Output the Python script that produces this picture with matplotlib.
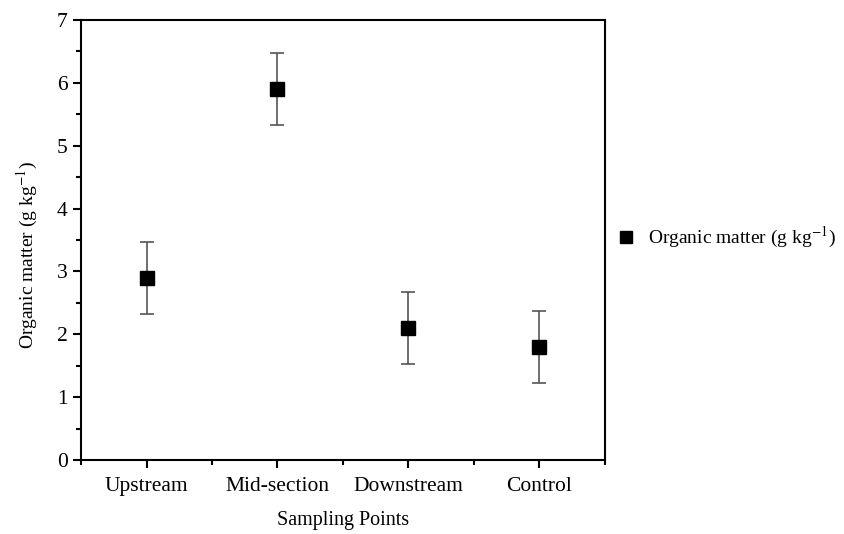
import numpy as np
import matplotlib.pyplot as plt
from matplotlib.lines import Line2D
from matplotlib.ticker import MultipleLocator

plt.rcParams['font.family'] = ['Liberation Serif', 'DejaVu Serif']
plt.rcParams['mathtext.fontset'] = 'stix'

sites = ['Upstream', 'Mid-section', 'Downstream', 'Control']
organic = [2.9, 5.9, 2.1, 1.8]
err = [0.57, 0.57, 0.57, 0.57]

fig = plt.figure(figsize=(8.45, 5.34), dpi=100)
ax = fig.add_axes([0.0959, 0.1386, 0.62, 0.824])

x = np.arange(len(sites))
ax.errorbar(x, organic, yerr=err, fmt='s', color='black', ms=10,
            ecolor='#555555', elinewidth=1.2, capsize=5, capthick=1.2)

ax.set_xlim(-0.5, 3.5)
ax.set_ylim(0, 7)
ax.set_xticks(x)
ax.set_xticklabels(sites, fontsize=15.5)
ax.xaxis.set_minor_locator(MultipleLocator(0.5))
ax.yaxis.set_major_locator(MultipleLocator(1))
ax.yaxis.set_minor_locator(MultipleLocator(0.5))
ax.tick_params(axis='y', labelsize=15.5)
ax.tick_params(axis='x', pad=6)
ax.tick_params(which='major', direction='out', length=6, width=1.5)
ax.tick_params(which='minor', direction='out', length=3.5, width=1.5)
for s in ax.spines.values():
    s.set_linewidth(1.5)

ax.set_xlabel('Sampling Points', fontsize=14.5)
ax.xaxis.set_label_coords(0.5, -0.115)
ax.set_ylabel('Organic matter (g kg$^{-1}$)', fontsize=14)
ax.yaxis.set_label_coords(-0.078, 0.466)

handle = Line2D([], [], marker='s', color='black', linestyle='none', ms=9)
ax.legend([handle], ['Organic matter (g kg$^{-1}$)'], loc='center left',
          bbox_to_anchor=(1.022, 0.506), frameon=False, fontsize=14,
          handlelength=1.0, handletextpad=0.6, borderpad=0, borderaxespad=0)

fig.savefig('out.png', dpi=100)
